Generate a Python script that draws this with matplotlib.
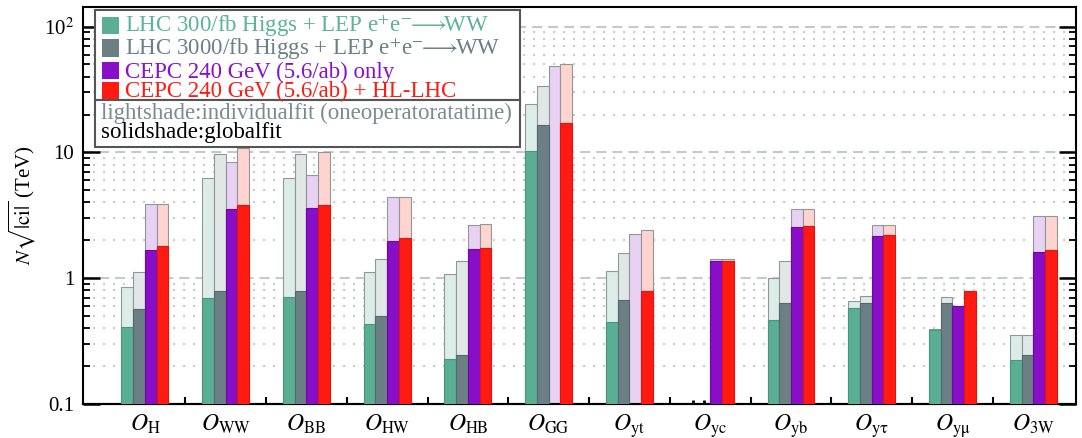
import numpy as np
import matplotlib.pyplot as plt
from matplotlib.patches import Rectangle
import matplotlib.ticker as mticker

plt.rcParams['font.family'] = ['Liberation Serif', 'DejaVu Serif']
plt.rcParams['mathtext.fontset'] = 'stix'

# operadores (subindices de O)
etiquetas = [r'$O_{\mathrm{H}}$', r'$O_{\mathrm{WW}}$', r'$O_{\mathrm{BB}}$', r'$O_{\mathrm{HW}}$',
             r'$O_{\mathrm{HB}}$', r'$O_{\mathrm{GG}}$', r'$O_{\mathrm{yt}}$', r'$O_{\mathrm{yc}}$',
             r'$O_{\mathrm{yb}}$', r'$O_{\mathrm{y\tau}}$', r'$O_{\mathrm{y\mu}}$', r'$O_{\mathrm{3W}}$']

# N*sqrt(|ci|) en TeV: ajuste individual (light) y global (solid); nan = sin barra
lhc300_indiv = [0.85, 6.3, 6.3, 1.13, 1.09, 24.3, 1.14, np.nan, 1.0, 0.66, 0.395, 0.351]
lhc300_global = [0.406, 0.698, 0.71, 0.432, 0.228, 10.2, 0.45, np.nan, 0.467, 0.578, 0.391, 0.224]
lhc3000_indiv = [1.13, 9.64, 9.64, 1.41, 1.38, 33.6, 1.59, np.nan, 1.38, 0.716, 0.713, 0.351]
lhc3000_global = [0.565, 0.789, 0.789, 0.50, 0.246, 16.6, 0.669, np.nan, 0.637, 0.637, 0.632, 0.245]
cepc_indiv = [3.92, 8.44, 6.57, 4.45, 2.65, 48.4, 2.23, 1.41, 3.53, 2.67, 0.605, 3.1]
cepc_global = [1.69, 3.57, 3.64, 1.99, 1.70, np.nan, np.nan, 1.36, 2.57, 2.18, 0.603, 1.63]
combinado_indiv = [3.92, 10.8, 10.1, 4.45, 2.72, 50.9, 2.40, 1.41, 3.53, 2.67, 0.79, 3.1]
combinado_global = [1.79, 3.80, 3.80, 2.08, 1.74, 17.2, 0.79, 1.37, 2.60, 2.22, 0.789, 1.67]

nombres = [r'LHC 300/fb Higgs + LEP e$^{+}$e$^{-}\!\!\longrightarrow\!\!$WW',
           r'LHC 3000/fb Higgs + LEP e$^{+}$e$^{-}\!\!\longrightarrow\!\!$WW',
           'CEPC 240 GeV (5.6/ab) only',
           'CEPC 240 GeV (5.6/ab) + HL-LHC']

colores = ['#5aae94', '#6b7f84', '#880ec8', '#ff1a12']
bordes = ['#46977e', '#56686c', '#6c0aa0', '#dc160f']
colores_claros = ['#dcece6', '#e1e6e6', '#e8d1f3', '#ffd3ce']
colores_texto = ['#5cb39a', '#6b7f84', '#8a10cc', '#ff1a12']


def graficar():
    fig = plt.figure(figsize=(10.82, 4.38), dpi=100)
    ax = fig.add_axes([0.0764, 0.0776, 0.9181, 0.9071])

    pos = np.arange(len(etiquetas))
    ancho = 0.145
    series = [(lhc300_indiv, lhc300_global), (lhc3000_indiv, lhc3000_global),
              (cepc_indiv, cepc_global), (combinado_indiv, combinado_global)]

    centros = []
    for k, (indiv, glob) in enumerate(series):
        indiv = np.array(indiv)
        glob = np.array(glob)
        x = pos + (k - 1.5) * ancho
        centros.extend(x)
        m = ~np.isnan(indiv)
        ax.bar(x[m], indiv[m], ancho, color=colores_claros[k], edgecolor='#8f9898',
               linewidth=0.8, zorder=2)
        m = ~np.isnan(glob)
        ax.bar(x[m], glob[m], ancho, color=colores[k], edgecolor=bordes[k],
               linewidth=0.8, zorder=3)

    # eje y logaritmico
    ax.set_yscale('log')
    ax.set_ylim(0.1, 144)
    ax.set_xlim(-0.77, 11.53)
    ax.set_yticks([0.1, 1, 10, 100], ['0.1', '1', '10', r'10$^{2}$'])
    ax.yaxis.set_minor_locator(mticker.LogLocator(base=10, subs=np.arange(2, 10)))
    ax.yaxis.set_minor_formatter(mticker.NullFormatter())
    ax.tick_params(axis='y', which='major', direction='in', length=12, width=1.8,
                   labelsize=15, right=True, pad=6)
    ax.tick_params(axis='y', which='minor', direction='in', length=5, width=1.3, right=True)

    ax.yaxis.grid(True, which='major', linestyle=(0, (4.8, 2.9)), linewidth=1.5, color='#c4cacb')
    ax.yaxis.grid(True, which='minor', linestyle=(0, (1, 3.8)), linewidth=1.5, color='#c8cccd')
    ax.set_axisbelow(True)

    # eje x: etiquetas en el centro, marcas entre grupos
    ax.set_xticks(pos, etiquetas)
    ax.set_xticks(pos[:-1] + 0.5, minor=True)
    ax.tick_params(axis='x', which='major', length=0, labelsize=17, pad=6)
    ax.tick_params(axis='x', which='minor', direction='in', length=5, width=1.5)
    sec = ax.secondary_xaxis('bottom')
    sec.set_xticks(sorted(centros), [])
    sec.tick_params(direction='in', length=3, width=2)
    sec.spines['bottom'].set_linewidth(1.5)

    for s in ax.spines.values():
        s.set_linewidth(1.5)

    ax.set_ylabel(r'$N\sqrt{|\mathrm{ci}|}$ (TeV)', fontsize=15)
    ax.yaxis.set_label_coords(-0.045, 0.5)

    # leyenda en dos cajas
    caja = dict(transform=ax.transAxes, facecolor='white', edgecolor='#555555',
                linewidth=1.5, zorder=6)
    ax.add_patch(Rectangle((0.0124, 0.7652), 0.4279, 0.2267, **caja))
    ax.add_patch(Rectangle((0.0124, 0.6476), 0.4279, 0.1176, **caja))
    bases = [0.9313, 0.8742, 0.8173, 0.7677]
    for k in range(4):
        ax.add_patch(Rectangle((0.0191, bases[k]), 0.0177, 0.0435, transform=ax.transAxes,
                               facecolor=colores[k], edgecolor='none', zorder=7))
        ax.text(0.0426, bases[k] + 0.004, nombres[k], transform=ax.transAxes,
                color=colores_texto[k], fontsize=16.5, va='baseline', ha='left', zorder=7)
    ax.text(0.0181, 0.7173, 'lightshade:individualfit (oneoperatoratatime)', transform=ax.transAxes,
            color='#7b8c90', fontsize=16.5, va='baseline', ha='left', zorder=7)
    ax.text(0.0181, 0.6695, 'solidshade:globalfit', transform=ax.transAxes,
            color='black', fontsize=16.5, va='baseline', ha='left', zorder=7)

    fig.savefig('out.png', dpi=100)


if __name__ == '__main__':
    graficar()
